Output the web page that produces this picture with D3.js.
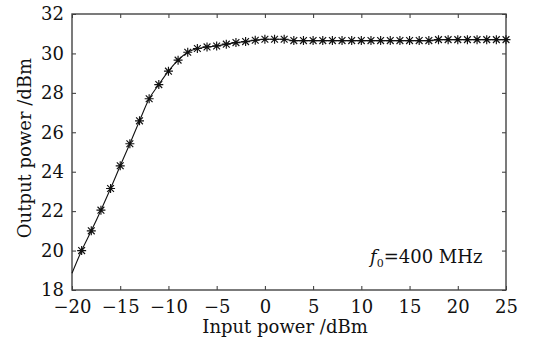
<!DOCTYPE html>
<html><head><meta charset="utf-8">
<script src="https://cdn.jsdelivr.net/npm/d3@7"></script>
<style>body{margin:0;background:#fff}svg{display:block}text{font-family:"DejaVu Serif",serif;fill:#111}</style>
</head><body>
<svg id="c" width="533" height="343"></svg>
<script>
// Data
const inputPower = [-20,-19,-18,-17,-16,-15,-14,-13,-12,-11,-10,-9,-8,-7,-6,-5,-4,-3,-2,-1,0,1,2,3,4,5,6,7,8,9,10,11,12,13,14,15,16,17,18,19,20,21,22,23,24,25];
const outputPower = [18.85,20.0,21.0,22.05,23.15,24.3,25.42,26.58,27.7,28.42,29.1,29.66,30.06,30.25,30.33,30.38,30.47,30.55,30.6,30.67,30.72,30.72,30.72,30.65,30.65,30.65,30.65,30.65,30.65,30.65,30.65,30.65,30.65,30.65,30.65,30.65,30.65,30.65,30.7,30.7,30.7,30.7,30.7,30.7,30.7,30.7];
const markerStart = -19; // markers from -19 onward
const xTicks = [-20,-15,-10,-5,0,5,10,15,20,25];
const yTicks = [18,20,22,24,26,28,30,32];
const xLabel = "Input power /dBm";
const yLabel = "Output power /dBm";

const svg = d3.select("#c");
const L=72,R=506,T=14,B=290;
const x = d3.scaleLinear().domain([-20,25]).range([L,R]);
const y = d3.scaleLinear().domain([18,32]).range([B,T]);
const fmt = d => d<0 ? "\u2212"+Math.abs(d) : String(d);
const fs = 18;

// axes
const ax = (g, axis) => { g.call(axis); g.select(".domain").remove(); g.selectAll("line").attr("stroke","#333").attr("stroke-width",1); g.selectAll("text").attr("font-size",fs).attr("font-family","DejaVu Serif").attr("fill","#111"); };
svg.append("g").attr("transform",`translate(0,${B})`).call(g=>ax(g,d3.axisBottom(x).tickValues(xTicks).tickSize(-4).tickPadding(10).tickFormat(fmt)));
svg.append("g").attr("transform",`translate(0,${T})`).call(g=>{ax(g,d3.axisTop(x).tickValues(xTicks).tickSize(-4).tickFormat(""));});
svg.append("g").attr("transform",`translate(${L},0)`).call(g=>ax(g,d3.axisLeft(y).tickValues(yTicks).tickSize(-4).tickPadding(8).tickFormat(fmt)));
svg.append("g").attr("transform",`translate(${R},0)`).call(g=>ax(g,d3.axisRight(y).tickValues(yTicks).tickSize(-4).tickFormat("")));
svg.append("rect").attr("x",L).attr("y",T).attr("width",R-L).attr("height",B-T).attr("fill","none").attr("stroke","#444").attr("stroke-width",1.4);

// line
svg.append("path").datum(inputPower.map((v,i)=>[v,outputPower[i]]))
  .attr("fill","none").attr("stroke","#111").attr("stroke-width",1.1)
  .attr("d",d3.line().x(d=>x(d[0])).y(d=>y(d[1])).curve(d3.curveMonotoneX));

// markers (asterisk)
const s=4.5, sd=3.4;
const mk = svg.append("g").attr("stroke","#111").attr("stroke-width",1.15);
inputPower.forEach((v,i)=>{
  if(v<markerStart) return;
  const cx=x(v), cy=y(outputPower[i]);
  mk.append("path").attr("d",`M${cx-s},${cy}H${cx+s}M${cx},${cy-s}V${cy+s}M${cx-sd},${cy-sd}L${cx+sd},${cy+sd}M${cx-sd},${cy+sd}L${cx+sd},${cy-sd}`);
});

// labels
svg.append("text").attr("x",(L+R)/2-4).attr("y",333).attr("text-anchor","middle").attr("font-size",fs).text(xLabel);
svg.append("text").attr("transform",`translate(31,${(T+B)/2-4}) rotate(-90)`).attr("text-anchor","middle").attr("font-size",fs).text(yLabel);

// annotation
const an = svg.append("text").attr("x",370).attr("y",263).attr("font-size",fs);
an.append("tspan").attr("font-style","italic").text("f");
an.append("tspan").attr("font-size",11).attr("dy",4).text("0");
an.append("tspan").attr("dy",-4).text("=400 MHz");
</script>
</body></html>
